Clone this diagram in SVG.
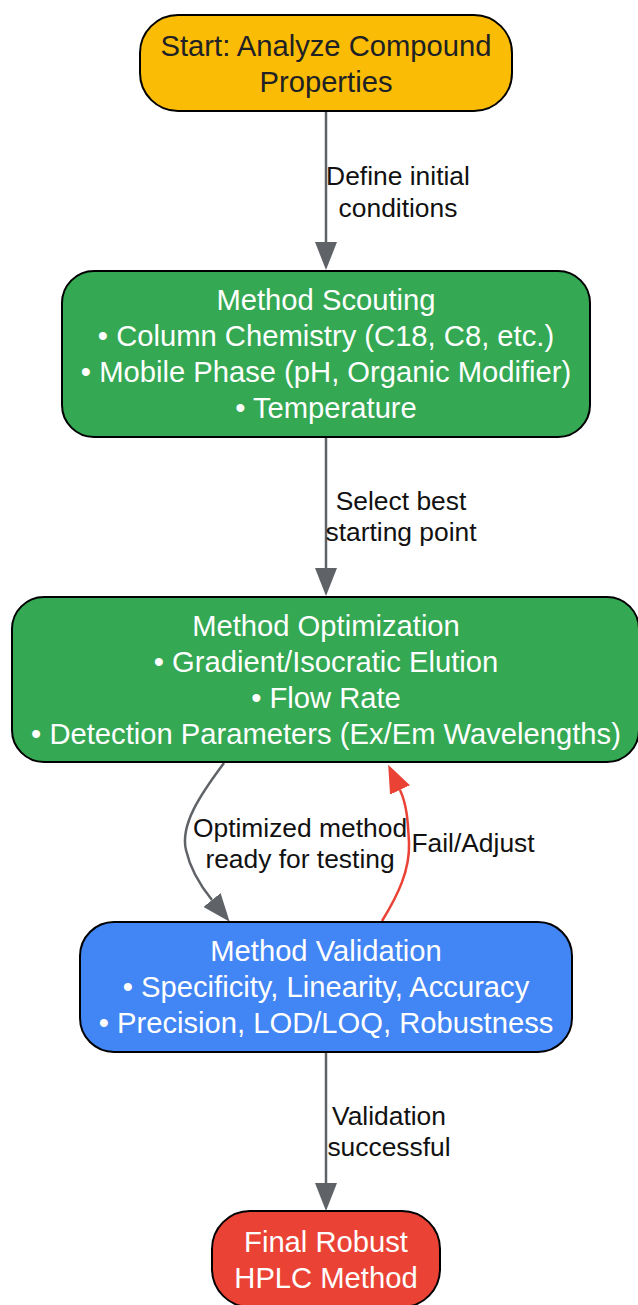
<svg xmlns="http://www.w3.org/2000/svg" width="638" height="1305" viewBox="0 0 638 1305">
<style>
.node{stroke:#000;stroke-width:2}
.nt{font-family:"Liberation Sans",Arial,sans-serif;font-size:29.2px;text-anchor:middle;fill:#fff}
.dark{fill:#202124}
.el{font-family:"Liberation Sans",Arial,sans-serif;font-size:26.4px;text-anchor:middle;fill:#111}
.edge{fill:none;stroke:#5F6368;stroke-width:2.5}
.red{stroke:#EA4335}
</style>
<defs>
<marker id="ag" markerUnits="userSpaceOnUse" markerWidth="28" markerHeight="22" viewBox="0 0 28 22" refX="0" refY="11" orient="auto"><path d="M0,0 L28,11 L0,22 z" fill="#5F6368"/></marker>
<marker id="ar" markerUnits="userSpaceOnUse" markerWidth="28" markerHeight="22" viewBox="0 0 28 22" refX="0" refY="11" orient="auto"><path d="M0,0 L28,11 L0,22 z" fill="#EA4335"/></marker>
</defs>
<rect width="638" height="1305" fill="#fff"/>
<g id="connectors">
<path class="edge" d="M326,111 L326,242" marker-end="url(#ag)"/>
<path class="edge" d="M326,437 L326,568" marker-end="url(#ag)"/>
<path class="edge" d="M224,763 C200,795 180,825 186,850 C190,868 199,884 212,900" marker-end="url(#ag)"/>
<path class="edge red" d="M382,921 C398,895 410,870 409,843 C408,822 407,805 400,790" marker-end="url(#ar)"/>
<path class="edge" d="M326,1052 L326,1183" marker-end="url(#ag)"/>
<text class="el" x="398" y="185">Define initial</text>
<text class="el" x="398" y="217">conditions</text>
<text class="el" x="401" y="510">Select best</text>
<text class="el" x="401" y="541">starting point</text>
<text class="el" x="300" y="837">Optimized method</text>
<text class="el" x="300" y="868">ready for testing</text>
<text class="el" x="473" y="852">Fail/Adjust</text>
<text class="el" x="389" y="1125">Validation</text>
<text class="el" x="389" y="1156">successful</text>
</g>
<g id="start">
<rect class="node" x="140" y="15" width="372" height="96" rx="38" fill="#FBBC05"/>
<text class="nt dark" x="326" y="56">Start: Analyze Compound</text>
<text class="nt dark" x="326" y="92">Properties</text>
</g>
<g id="scouting">
<rect class="node" x="62" y="271" width="528" height="166" rx="32" fill="#34A853"/>
<text class="nt" x="326" y="310">Method Scouting</text>
<text class="nt" x="326" y="346">• Column Chemistry (C18, C8, etc.)</text>
<text class="nt" x="326" y="382">• Mobile Phase (pH, Organic Modifier)</text>
<text class="nt" x="326" y="418">• Temperature</text>
</g>
<g id="optimization">
<rect class="node" x="12" y="597" width="627" height="165" rx="32" fill="#34A853"/>
<text class="nt" x="326" y="636">Method Optimization</text>
<text class="nt" x="326" y="672">• Gradient/Isocratic Elution</text>
<text class="nt" x="326" y="708">• Flow Rate</text>
<text class="nt" x="326" y="744">• Detection Parameters (Ex/Em Wavelengths)</text>
</g>
<g id="validation">
<rect class="node" x="80" y="922" width="492" height="130" rx="34" fill="#4285F4"/>
<text class="nt" x="326" y="961">Method Validation</text>
<text class="nt" x="326" y="997">• Specificity, Linearity, Accuracy</text>
<text class="nt" x="326" y="1033">• Precision, LOD/LOQ, Robustness</text>
</g>
<g id="final">
<rect class="node" x="212" y="1211" width="228" height="96" rx="38" fill="#EA4335"/>
<text class="nt" x="326" y="1252">Final Robust</text>
<text class="nt" x="326" y="1288">HPLC Method</text>
</g>
</svg>
